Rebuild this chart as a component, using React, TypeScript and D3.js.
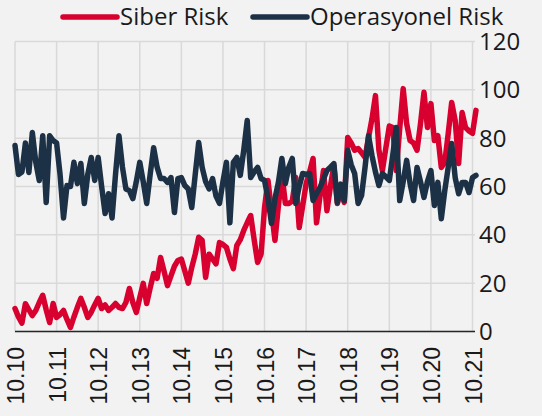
import React from "react"
import * as d3 from "d3"

// monthly observations, index 0 = 10.10
const siberRisk = [
  9.5, 6, 3.5, 11.5, 9, 6.6, 8.7, 12, 15, 9, 3.7, 11.6, 5.8, 7, 8.7, 5, 1.7, 6, 10, 13.7,
  10, 5.8, 8, 11, 13.7, 9.5, 11, 8.7, 10, 11.6, 10, 9.5, 12, 17.8, 12, 7.9, 14, 19.9, 11.6, 18,
  24, 22, 30.6, 25, 19, 23, 27, 29.4, 30, 25, 20, 26.5, 32, 39, 37.7, 22.4, 32, 30, 28, 36.8,
  36, 34.8, 30, 26, 35.6, 38, 41.8, 45, 48, 38, 28.6, 32, 51.3, 62.5, 50, 37.7, 52, 65.4, 53, 53,
  54, 63.7, 43, 52, 61.2, 66, 71.6, 45, 56, 66.6, 50, 60, 68.7, 53, 58, 53.4, 80.3, 78, 75, 75.7,
  74, 72, 80.3, 88, 97.6, 75, 66.6, 76, 85, 84.4, 66.6, 84, 100.5, 86, 79, 78, 75, 86, 99, 84.4,
  94.3, 79, 81, 67.9, 70, 82, 94.8, 87.3, 69.5, 90.6, 84.4, 83, 82, 91.5,
]

const operasyonelRisk = [
  77, 65, 66, 78, 65.8, 82.3, 70, 62.5, 81, 53.4, 81, 79, 78, 65, 47, 60.4, 60, 70, 61.2, 69.5,
  53, 65, 72, 62.5, 72, 60, 48.8, 57, 47, 65, 81, 68, 59, 58.3, 55, 62, 70, 62, 53, 65,
  76, 68, 63.3, 63.3, 61.7, 63.7, 49.2, 63.3, 63.7, 60.4, 59, 51.3, 65, 78.2, 67.9, 62, 59, 63.3, 56, 53,
  62, 70, 45, 70, 72, 64.6, 75, 87.3, 63.7, 66, 67.9, 63.3, 62.5, 55, 44.7, 55, 61.7, 71.6, 61.2, 68,
  71.6, 53, 60, 65.4, 65, 65.4, 54.2, 57, 59.6, 63, 66.6, 68, 69.5, 53.4, 61, 54.2, 75, 69, 65.4, 53,
  56.3, 68, 81, 72.8, 66, 60.4, 65.4, 64, 62.5, 73, 84.4, 54.2, 62, 70.8, 61.2, 54.2, 67.9, 62, 55.5, 62,
  66.6, 52.1, 61.7, 46.7, 58.3, 68, 77.8, 63.7, 57, 61.7, 61.7, 57.5, 63.7, 64.6,
]

const xLabels = ["10.10", "10.11", "10.12", "10.13", "10.14", "10.15", "10.16", "10.17", "10.18", "10.19", "10.20", "10.21"]
const yTicks = [0, 20, 40, 60, 80, 100, 120]

const series = [
  { name: "Siber Risk", values: siberRisk, color: "#d7002f" },
  { name: "Operasyonel Risk", values: operasyonelRisk, color: "#1c3146" },
]

const W = 542
const H = 416

export default function App() {
  const x = d3.scaleLinear().domain([0, (xLabels.length - 1) * 12]).range([15, 472.5])
  const y = d3.scaleLinear().domain([0, 120]).range([331.5, 41.5])
  const line = d3
    .line<number>()
    .x((_, i) => x(i))
    .y((d) => y(d))

  const gridRight = 475

  return (
    <>
      <style>{`body{margin:0}`}</style>
      <svg width={W} height={H} style={{ display: "block", background: "#f2f2f2" }}>
        {/* horizontal grid */}
        {yTicks.map((t) => (
          <line key={"h" + t} x1={x(0)} x2={gridRight} y1={y(t)} y2={y(t)} stroke="#d9d9d9" strokeWidth={1.5} />
        ))}
        {/* vertical grid */}
        {xLabels.map((l, i) => (
          <line key={"v" + l} x1={x(i * 12)} x2={x(i * 12)} y1={y(120)} y2={y(0)} stroke="#d9d9d9" strokeWidth={1.5} />
        ))}
        <line x1={x(0)} x2={gridRight} y1={y(0)} y2={y(0)} stroke="#262626" strokeWidth={1.5} />

        {series.map((s) => (
          <path
            key={s.name}
            d={line(s.values) ?? ""}
            fill="none"
            stroke={s.color}
            strokeWidth={5.5}
            strokeLinejoin="round"
            strokeLinecap="round"
          />
        ))}

        {/* y axis labels on the right */}
        {yTicks.map((t) => (
          <text
            key={"yl" + t}
            x={479}
            y={y(t)}
            dy="0.35em"
            fontFamily="'Open Sans', sans-serif"
            fontSize={24}
            fill="#1a1a1a"
          >
            {t}
          </text>
        ))}

        {/* x axis labels, rotated */}
        {xLabels.map((l, i) => (
          <text
            key={"xl" + l}
            transform={`translate(${x(i * 12) + 1},347) rotate(-90)`}
            textAnchor="end"
            dy="0.35em"
            fontFamily="'Liberation Sans', Arial, sans-serif"
            fontSize={23}
            fill="#1a1a1a"
          >
            {l}
          </text>
        ))}

        {/* legend */}
        <g fontFamily="'Open Sans', sans-serif" fontSize={24} fill="#1a1a1a">
          <line x1={63} x2={117} y1={17} y2={17} stroke={series[0].color} strokeWidth={5.5} strokeLinecap="round" />
          <text x={120} y={17} dy="0.35em">{series[0].name}</text>
          <line x1={253} x2={307} y1={17} y2={17} stroke={series[1].color} strokeWidth={5.5} strokeLinecap="round" />
          <text x={310} y={17} dy="0.35em">{series[1].name}</text>
        </g>
      </svg>
    </>
  )
}
